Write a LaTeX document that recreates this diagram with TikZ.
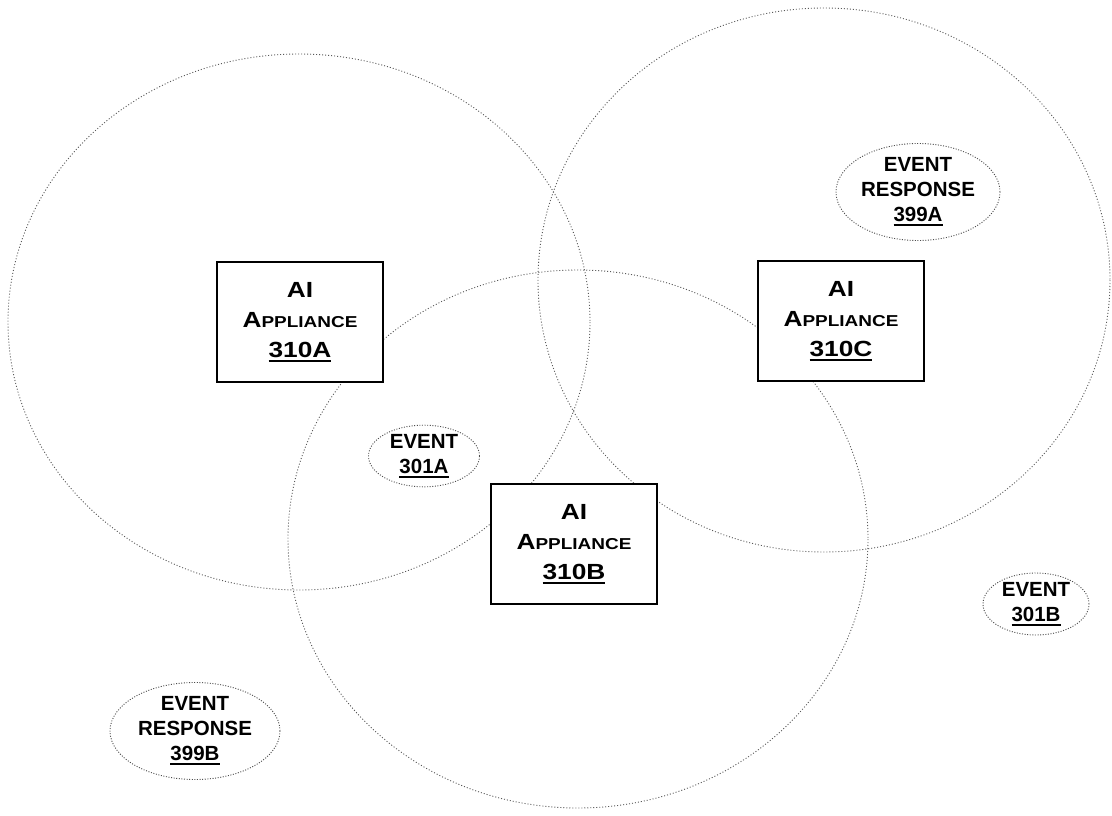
\documentclass[tikz,border=0pt]{standalone}
\usepackage{fontspec}
\setmainfont{Liberation Sans}
\newfontfamily\boxfont{Liberation Sans}[FakeStretch=1.2]
\usetikzlibrary{shapes.geometric}
\newcommand{\smallcapsize}[1]{{\fontsize{15.8}{30}\selectfont #1}}
\newcommand{\refnum}[1]{\setbox0\hbox{#1}\rlap{\rule[-4.5pt]{\wd0}{1.9pt}}\box0}
\tikzset{
  zone/.style={draw=black!65, line width=0.9pt, dash pattern=on 1pt off 2pt},
  appliance/.style={rectangle, draw=black, line width=2.8pt, fill=white,
    minimum width=166pt, minimum height=120pt, inner sep=0pt, align=center,
    font=\boxfont\bfseries\fontsize{21.9}{30}\selectfont},
  evt/.style={ellipse, draw=black!70, line width=0.9pt, dash pattern=on 1pt off 1.6pt,
    fill=white, inner sep=0pt, align=center,
    font=\bfseries\fontsize{20.5}{25}\selectfont},
}
\begin{document}
\begin{tikzpicture}[x=1pt, y=-1pt]
\useasboundingbox (0,0) rectangle (1112,816);
% coverage zones
\draw[zone] (299,322) ellipse [x radius=291, y radius=268];
\draw[zone] (824,280) ellipse [x radius=286, y radius=272];
\draw[zone] (578,539) ellipse [x radius=290, y radius=269];
% appliances
\node[appliance] (a) at (300,322) {AI\\A\smallcapsize{PPLIANCE}\\\refnum{310A}};
\node[appliance] (c) at (841,321) {AI\\A\smallcapsize{PPLIANCE}\\\refnum{310C}};
\node[appliance] (b) at (574,544) {AI\\A\smallcapsize{PPLIANCE}\\\refnum{310B}};
% events
\node[evt, minimum width=111pt, minimum height=56pt] (e1) at (424,456) {EVENT\\\refnum{301A}};
\node[evt, minimum width=106pt, minimum height=62pt] (e2) at (1036,604) {EVENT\\\refnum{301B}};
\node[evt, minimum width=164pt, minimum height=94pt] (r1) at (918,192) {EVENT\\RESPONSE\\\refnum{399A}};
\node[evt, minimum width=170pt, minimum height=88pt] (r2) at (195,731) {EVENT\\RESPONSE\\\refnum{399B}};
\end{tikzpicture}
\end{document}
